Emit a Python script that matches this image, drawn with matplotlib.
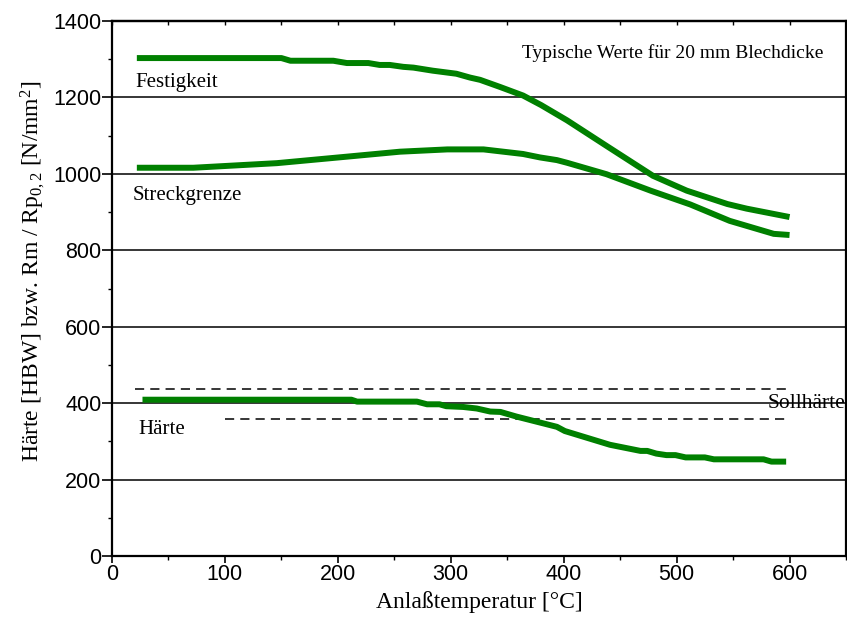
import matplotlib
matplotlib.use("Agg")
import matplotlib.pyplot as plt
from matplotlib.ticker import MultipleLocator

plt.rcParams["mathtext.fontset"] = "custom"
plt.rcParams["mathtext.rm"] = "Liberation Serif"
plt.rcParams["mathtext.it"] = "Liberation Serif:italic"
plt.rcParams["mathtext.bf"] = "Liberation Serif:bold"

# ---- data ----
fest_x = [22, 150, 158, 196, 208, 227, 237, 246, 258, 267, 284, 305, 317, 326, 344, 364, 380, 403, 438, 479, 509, 545, 562, 600]
fest_y = [1303, 1303, 1296, 1296, 1290, 1290, 1285, 1285, 1280, 1278, 1270, 1262, 1252, 1246, 1227, 1205, 1180, 1140, 1073, 995, 956, 921, 909, 887]

streck_x = [22, 72, 146, 208, 255, 297, 329, 364, 379, 394, 403, 438, 477, 512, 547, 586, 600]
streck_y = [1016, 1016, 1028, 1045, 1058, 1064, 1064, 1052, 1043, 1036, 1029, 999, 956, 920, 877, 843, 840]

haerte_x = [27, 212, 217, 270, 279, 290, 296, 311, 323, 335, 344, 358, 394, 401, 441, 468, 474, 482, 491, 499, 508, 525, 533, 577, 584, 597]
haerte_y = [409, 409, 404, 404, 397, 397, 392, 390, 386, 378, 377, 365, 338, 327, 291, 275, 275, 268, 264, 264, 258, 258, 253, 253, 247, 247]

soll_upper_x = [20, 600]
soll_upper_y = [436, 436]
soll_lower_x = [100, 600]
soll_lower_y = [358, 358]

grid_levels = [200, 400, 600, 800, 1000, 1200]
x_ticks = [0, 100, 200, 300, 400, 500, 600]
y_ticks = [0, 200, 400, 600, 800, 1000, 1200, 1400]

SERIF = ["Liberation Serif", "DejaVu Serif"]
SANS = ["Liberation Sans", "DejaVu Sans"]
GREEN = "#008000"

fig = plt.figure(figsize=(8.47, 6.23), dpi=100)
ax = fig.add_axes([112 / 847, 1 - 556 / 623, (846 - 112) / 847, (556 - 21) / 623])

for g in grid_levels:
    ax.axhline(g, color="black", lw=1.1, zorder=1)

ax.plot(soll_upper_x, soll_upper_y, color="black", lw=1.1, ls=(0, (6, 4)), zorder=2)
ax.plot(soll_lower_x, soll_lower_y, color="black", lw=1.1, ls=(0, (6, 4)), zorder=2)

for xs, ys in [(fest_x, fest_y), (streck_x, streck_y), (haerte_x, haerte_y)]:
    ax.plot(xs, ys, color=GREEN, lw=4.3, solid_capstyle="butt", solid_joinstyle="round", zorder=3)

ax.set_xlim(0, 650)
ax.set_ylim(0, 1400)
ax.set_xticks(x_ticks)
ax.set_yticks(y_ticks)
ax.xaxis.set_minor_locator(MultipleLocator(50))
ax.yaxis.set_minor_locator(MultipleLocator(100))
ax.tick_params(axis="x", which="major", direction="out", length=5, width=1.2, labelsize=15.5, pad=1)
ax.tick_params(axis="x", which="minor", direction="out", length=3, width=1.0)
ax.tick_params(axis="y", which="major", direction="out", length=7, width=1.2, labelsize=15.5, pad=0.5)
ax.tick_params(axis="y", which="minor", direction="out", length=3, width=1.0)
for lab in ax.get_xticklabels() + ax.get_yticklabels():
    lab.set_family(SANS)

top = ax.secondary_xaxis("top")
top.set_xticks(list(range(0, 651, 50)))
top.tick_params(direction="in", length=3, width=1.0, labeltop=False)
top.spines["top"].set_linewidth(1.6)

for s in ax.spines.values():
    s.set_linewidth(1.6)

ax.set_xlabel("Anlaßtemperatur [°C]", family=SERIF, fontsize=17, labelpad=4)
ax.set_ylabel("Härte [HBW] bzw. Rm / Rp$_{0,2}$ [N/mm$^{2}$]", family=SERIF, fontsize=17)
ax.yaxis.set_label_coords(-0.089, 0.532)

ax.text(21, 1238, "Festigkeit", family=SERIF, fontsize=15, ha="left", va="center")
ax.text(18, 943, "Streckgrenze", family=SERIF, fontsize=15, ha="left", va="center")
ax.text(23, 332, "Härte", family=SERIF, fontsize=15, ha="left", va="center")
ax.text(581, 400, "Sollhärte", family=SERIF, fontsize=15.5, ha="left", va="center", clip_on=False)
ax.text(363, 1317, "Typische Werte für 20 mm Blechdicke", family=SERIF, fontsize=14, ha="left", va="center")

fig.savefig("out.png", dpi=100)
